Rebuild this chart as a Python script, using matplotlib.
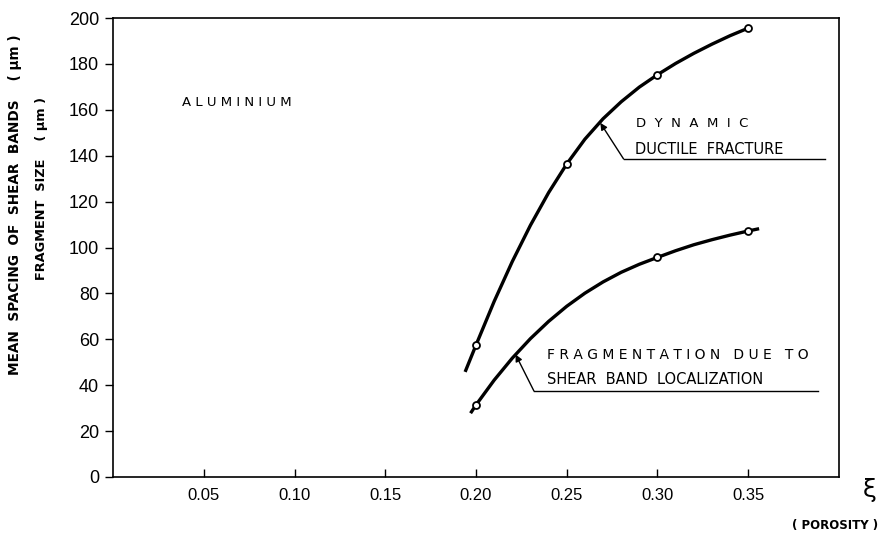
import matplotlib
matplotlib.use("Agg")
from matplotlib import pyplot as plt

# curves (porosity, size in um)
ductile_x = [0.194, 0.200, 0.210, 0.220, 0.230, 0.240, 0.250, 0.260, 0.270, 0.280,
             0.290, 0.300, 0.310, 0.320, 0.330, 0.340, 0.350]
ductile_y = [45.8, 57.5, 76.5, 93.9, 109.7, 123.9, 136.4, 147.2, 156.1, 163.5,
             169.9, 175.3, 180.2, 184.6, 188.6, 192.3, 195.6]
frag_x = [0.197, 0.200, 0.210, 0.220, 0.230, 0.240, 0.250, 0.260, 0.270, 0.280,
          0.290, 0.300, 0.310, 0.320, 0.330, 0.340, 0.350, 0.356]
frag_y = [27.8, 31.4, 42.2, 51.8, 60.3, 67.8, 74.4, 80.1, 85.0, 89.2,
          92.7, 95.7, 98.6, 101.2, 103.4, 105.4, 107.2, 108.2]

# measured points (open circles)
ductile_pts_x = [0.20, 0.25, 0.30, 0.35]
ductile_pts_y = [57.5, 136.4, 175.3, 195.6]
frag_pts_x = [0.20, 0.30, 0.35]
frag_pts_y = [31.4, 95.7, 107.2]

xticks = [0.05, 0.10, 0.15, 0.20, 0.25, 0.30, 0.35]
xticklabels = ["0.05", "0.10", "0.15", "0.20", "0.25", "0.30", "0.35"]
yticks = [0, 20, 40, 60, 80, 100, 120, 140, 160, 180, 200]

plt.rcParams['font.family'] = ['DejaVu Sans']

fig = plt.figure(figsize=(8.81, 5.41), dpi=100)
ax = fig.add_axes([0.1283, 0.1183, 0.8240, 0.8484])

ax.plot(ductile_x, ductile_y, color='black', lw=2.4, solid_capstyle='butt')
ax.plot(frag_x, frag_y, color='black', lw=2.4, solid_capstyle='butt')
ax.plot(ductile_pts_x, ductile_pts_y, 'o', ms=5, mfc='white', mec='black', mew=1.3)
ax.plot(frag_pts_x, frag_pts_y, 'o', ms=5, mfc='white', mec='black', mew=1.3)

ax.set_xlim(0, 0.40)
ax.set_ylim(0, 200)
ax.set_xticks(xticks)
ax.set_xticklabels(xticklabels, fontsize=12, family='Liberation Sans')
ax.set_yticks(yticks)
ax.set_yticklabels([str(v) for v in yticks], fontsize=13, family='Liberation Sans')
ax.tick_params(axis='x', direction='in', length=6, width=1.0, pad=8)
ax.tick_params(axis='y', direction='out', length=6, width=1.0, pad=4)
for s in ax.spines.values():
    s.set_linewidth(1.2)

# labels inside the plot
ax.text(0.038, 163.4, "A L U M I N I U M", fontsize=9.5, va='center', ha='left')

ax.text(0.2879, 154.2, "D  Y  N  A  M  I  C", fontsize=9.5, va='center', ha='left')
ax.text(0.2874, 142.5, "DUCTILE  FRACTURE", fontsize=10.5, va='center', ha='left')
ax.plot([0.2813, 0.3923], [138.6, 138.6], color='black', lw=1.0)
ax.annotate("", xy=(0.2685, 154.3), xytext=(0.2813, 138.6),
            arrowprops=dict(arrowstyle='-|>', color='black', lw=1.0,
                            mutation_scale=10, shrinkA=0, shrinkB=0))

ax.text(0.239, 53.2, "F R A G M E N T A T I O N   D U E   T O", fontsize=10,
        va='center', ha='left')
ax.text(0.239, 42.3, "SHEAR  BAND  LOCALIZATION", fontsize=10.5,
        va='center', ha='left')
ax.plot([0.2319, 0.3885], [37.5, 37.5], color='black', lw=1.0)
ax.annotate("", xy=(0.2218, 53.4), xytext=(0.2319, 37.5),
            arrowprops=dict(arrowstyle='-|>', color='black', lw=1.0,
                            mutation_scale=10, shrinkA=0, shrinkB=0))

# axis titles
fig.text(15 / 881, 1 - 205 / 541, "MEAN  SPACING  OF  SHEAR  BANDS    ( \u03bcm )",
         rotation=90, fontsize=9.8, weight='bold', ha='center', va='center')
fig.text(42 / 881, 1 - 188 / 541, "FRAGMENT  SIZE    ( \u03bcm )",
         rotation=90, fontsize=9.3, weight='bold', ha='center', va='center')
fig.text(870 / 881, 1 - 490 / 541, "\u03be", fontsize=18, ha='center', va='center')
fig.text(878 / 881, 1 - 525 / 541, "( POROSITY )", fontsize=8.5, weight='bold',
         ha='right', va='center')

fig.savefig("out.png", dpi=100)
